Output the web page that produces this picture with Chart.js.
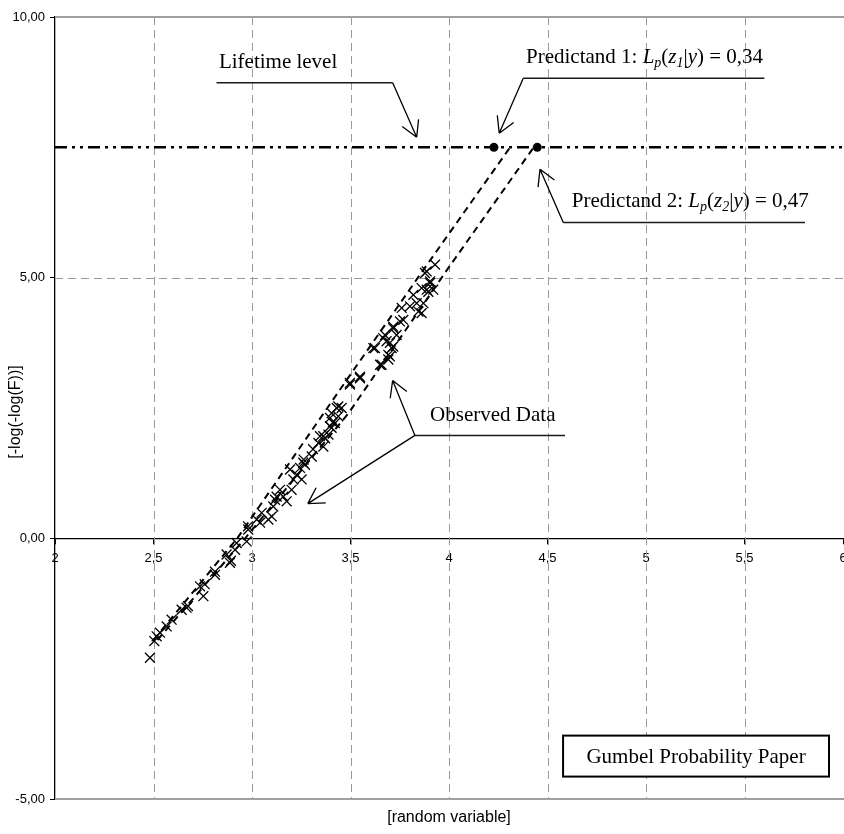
<!DOCTYPE html>
<html>
<head>
<meta charset="utf-8">
<title>Gumbel Probability Paper</title>
<script src="https://cdn.jsdelivr.net/npm/chart.js@4.4.0/dist/chart.umd.min.js"></script>
<style>
  html, body { margin: 0; padding: 0; background: #fff; }
  #wrap { width: 844px; height: 834px; }
</style>
</head>
<body>
<div id="wrap"><canvas id="gumbel" width="844" height="834"></canvas></div>
<script>
// ---- data ----
const xRange = [2, 6];
const yRange = [-5, 10];
const lifetimeLevel = 7.5;
const fitLine1 = [[2.50, -1.95], [2.925, 0], [3.47, 2.98], [3.87, 5.15], [4.31, 7.5]];
const fitLine2 = [[2.52, -1.95], [2.965, 0], [3.49, 2.4], [3.99, 5.15], [4.43, 7.5]];
const predictands = [[4.228, 7.5], [4.448, 7.5]];

const obsZ1 = [
  [2.482,-2.29],[2.516,-1.88],[2.567,-1.69],[2.592,-1.56],[2.643,-1.37],[2.736,-0.92],
  [2.760,-0.88],[2.812,-0.64],[2.871,-0.31],[2.914,-0.22],[2.922,-0.09],[2.981,0.17],
  [3.024,0.36],[3.049,0.49],[3.108,0.61],[3.117,0.74],[3.142,0.93],[3.193,1.32],
  [3.210,1.13],[3.244,1.35],[3.269,1.41],[3.303,1.57],[3.337,1.83],[3.371,1.92],
  [3.404,2.12],[3.421,2.21],[3.438,2.34],[3.430,2.50],[3.455,2.50],[3.497,2.95],
  [3.548,3.07],[3.616,3.65],[3.624,3.65],[3.666,3.84],[3.675,3.90],[3.717,4.06],
  [3.751,4.16],[3.760,4.42],[3.802,4.45],[3.819,4.67],[3.861,4.80],[3.878,5.09],
  [3.887,5.12],[3.904,4.90],[3.929,5.25]
];
const obsZ2 = [
  [2.504,-1.97],[2.533,-1.81],[2.668,-1.33],[2.675,-1.30],[2.753,-1.11],[2.812,-0.70],
  [2.888,-0.47],[2.893,-0.43],[2.973,-0.06],[2.980,0.23],[3.041,0.30],[3.083,0.36],
  [3.100,0.42],[3.125,0.80],[3.159,0.80],[3.176,0.71],[3.201,0.93],[3.227,1.22],
  [3.252,1.13],[3.260,1.45],[3.262,1.51],[3.310,1.71],[3.345,1.96],[3.362,1.76],
  [3.362,1.96],[3.388,1.99],[3.396,2.15],[3.396,2.31],[3.404,2.40],[3.410,2.22],
  [3.438,2.53],[3.497,2.98],[3.548,3.10],[3.650,3.33],[3.658,3.33],[3.692,3.43],
  [3.692,3.52],[3.700,3.49],[3.709,3.65],[3.717,3.68],[3.700,3.75],[3.683,3.78],
  [3.734,3.90],[3.717,4.03],[3.768,4.19],[3.845,4.35],[3.861,4.32],[3.836,4.51],
  [3.870,4.51],[3.895,4.73],[3.887,4.77],[3.920,4.77],[3.904,4.93]
];

const toPts = arr => arr.map(p => ({ x: p[0], y: p[1] }));
const comma = v => String(v).replace('.', ',');

const SERIF = '"Liberation Serif", "Times New Roman", serif';
const SANS  = '"Liberation Sans", Arial, sans-serif';

// rich text (italic + subscripts) for the predictand labels
function drawRich(ctx, x, y, parts, size) {
  parts.forEach(p => {
    const s = p.sub ? Math.round(size * 0.68) : size;
    ctx.font = (p.it ? 'italic ' : '') + s + 'px ' + SERIF;
    ctx.fillText(p.t, x, y + (p.sub ? size * 0.22 : 0));
    x += ctx.measureText(p.t).width;
  });
}

function arrow(ctx, x0, y0, x1, y1) {
  const a = Math.atan2(y0 - y1, x0 - x1);
  ctx.beginPath();
  ctx.moveTo(x0, y0);
  ctx.lineTo(x1, y1);
  [-0.52, 0.52].forEach(d => {
    ctx.moveTo(x1, y1);
    ctx.lineTo(x1 + 18 * Math.cos(a + d), y1 + 18 * Math.sin(a + d));
  });
  ctx.stroke();
}

// dashed grid + frame lines under the data, titles and callouts on top
const gridPlugin = {
  id: 'gumbelGrid',
  beforeDatasetsDraw(chart) {
    const { ctx, chartArea: ca, scales: { x, y } } = chart;
    ctx.save();
    ctx.strokeStyle = '#9a9a9a';
    ctx.lineWidth = 1;
    ctx.setLineDash([8, 5]);
    x.ticks.forEach(t => {
      if (t.value <= xRange[0] || t.value >= xRange[1]) return;
      const px = Math.round(x.getPixelForValue(t.value)) + 0.5;
      ctx.beginPath(); ctx.moveTo(px, ca.top); ctx.lineTo(px, ca.bottom); ctx.stroke();
    });
    y.ticks.forEach(t => {
      if (t.value <= yRange[0] || t.value >= yRange[1] || t.value === 0) return;
      const py = Math.round(y.getPixelForValue(t.value)) + 0.5;
      ctx.beginPath(); ctx.moveTo(ca.left, py); ctx.lineTo(ca.right, py); ctx.stroke();
    });
    ctx.setLineDash([]);
    ctx.lineWidth = 2;
    ctx.strokeStyle = '#a0a0a0';
    [yRange[0], yRange[1]].forEach(v => {
      const py = y.getPixelForValue(v);
      ctx.beginPath(); ctx.moveTo(ca.left, py); ctx.lineTo(844, py); ctx.stroke();
    });
    ctx.restore();
  },
  afterDraw(chart) {
    const { ctx, chartArea: ca, scales: { x, y } } = chart;
    const X = v => x.getPixelForValue(v);
    const Y = v => y.getPixelForValue(v);
    ctx.save();

    // axis titles
    ctx.fillStyle = '#000';
    ctx.font = '16px ' + SANS;
    ctx.textAlign = 'center';
    ctx.textBaseline = 'middle';
    ctx.fillText('[random variable]', (ca.left + ca.right) / 2, ca.bottom + 19);
    ctx.save();
    ctx.translate(16, (ca.top + ca.bottom) / 2 + 4);
    ctx.rotate(-Math.PI / 2);
    ctx.fillText('[-log(-log(F))]', 0, 0);
    ctx.restore();

    // callouts
    ctx.textAlign = 'left';
    ctx.textBaseline = 'alphabetic';
    ctx.font = '21px ' + SERIF;
    ctx.fillText('Lifetime level', X(2.832), Y(9.03));
    ctx.fillText('Observed Data', X(3.904), Y(2.256));
    drawRich(ctx, X(4.391), Y(9.124), [
      { t: 'Predictand 1: ' }, { t: 'L', it: 1 }, { t: 'p', it: 1, sub: 1 }, { t: '(' },
      { t: 'z', it: 1 }, { t: '1', it: 1, sub: 1 }, { t: '|' }, { t: 'y', it: 1 }, { t: ') = 0,34' }
    ], 21);
    drawRich(ctx, X(4.623), Y(6.364), [
      { t: 'Predictand 2: ' }, { t: 'L', it: 1 }, { t: 'p', it: 1, sub: 1 }, { t: '(' },
      { t: 'z', it: 1 }, { t: '2', it: 1, sub: 1 }, { t: '|' }, { t: 'y', it: 1 }, { t: ') = 0,47' }
    ], 21);

    ctx.strokeStyle = '#1a1a1a';
    ctx.lineWidth = 1.5;
    [[2.82, 3.714, 8.74], [4.377, 5.601, 8.825], [4.580, 5.807, 6.057], [3.827, 4.589, 1.974]]
      .forEach(u => {
        ctx.beginPath(); ctx.moveTo(X(u[0]), Y(u[2])); ctx.lineTo(X(u[1]), Y(u[2])); ctx.stroke();
      });
    ctx.strokeStyle = '#000';
    ctx.lineWidth = 1.3;
    arrow(ctx, X(3.714), Y(8.74), X(3.836), Y(7.694));
    arrow(ctx, X(4.377), Y(8.825), X(4.255), Y(7.771));
    arrow(ctx, X(4.580), Y(6.057), X(4.462), Y(7.081));
    arrow(ctx, X(3.827), Y(1.974), X(3.714), Y(3.029));
    arrow(ctx, X(3.827), Y(1.974), X(3.283), Y(0.665));

    // Gumbel label box
    const bx0 = X(4.579), bx1 = X(5.929), by0 = Y(-3.784), by1 = Y(-4.57);
    ctx.fillStyle = '#fff';
    ctx.fillRect(bx0, by0, bx1 - bx0, by1 - by0);
    ctx.lineWidth = 2;
    ctx.strokeRect(bx0, by0, bx1 - bx0, by1 - by0);
    ctx.fillStyle = '#000';
    ctx.textAlign = 'center';
    ctx.textBaseline = 'middle';
    ctx.font = '21px ' + SERIF;
    ctx.fillText('Gumbel Probability Paper', (bx0 + bx1) / 2, (by0 + by1) / 2 + 1);
    ctx.restore();
  }
};

new Chart(document.getElementById('gumbel'), {
  type: 'scatter',
  data: {
    datasets: [
      { label: 'Lifetime level', data: [{ x: xRange[0], y: lifetimeLevel }, { x: xRange[1], y: lifetimeLevel }],
        showLine: true, borderColor: '#000', borderWidth: 2.5, borderDash: [12, 5, 3, 5, 3, 5], pointRadius: 0 },
      { label: 'Fit 1', data: toPts(fitLine1), showLine: true, borderColor: '#000', borderWidth: 2,
        borderDash: [7, 5], pointRadius: 0 },
      { label: 'Fit 2', data: toPts(fitLine2), showLine: true, borderColor: '#000', borderWidth: 2,
        borderDash: [7, 5], pointRadius: 0 },
      { label: 'Observed z1', data: toPts(obsZ1), pointStyle: 'crossRot', pointRadius: 7,
        borderColor: '#000', borderWidth: 1.3 },
      { label: 'Observed z2', data: toPts(obsZ2), pointStyle: 'crossRot', pointRadius: 7,
        borderColor: '#000', borderWidth: 1.3 },
      { label: 'Predictands', data: toPts(predictands), pointStyle: 'circle', pointRadius: 4.5,
        backgroundColor: '#000', borderColor: '#000', borderWidth: 0 }
    ]
  },
  options: {
    responsive: false,
    animation: false,
    layout: { autoPadding: false, padding: { top: 17, right: 1, bottom: 35, left: 0 } },
    plugins: { legend: { display: false }, tooltip: { enabled: false } },
    scales: {
      x: {
        type: 'linear', min: xRange[0], max: xRange[1], position: { y: 0 },
        afterFit: s => { s.paddingLeft = 0; s.paddingRight = 0; },
        ticks: { stepSize: 0.5, color: '#000', padding: 7, font: { family: SANS, size: 13 }, callback: v => comma(v),
          maxRotation: 0 },
        grid: { drawOnChartArea: false, tickLength: 5, tickColor: '#000' },
        border: { color: '#000', width: 1.3 }
      },
      y: {
        type: 'linear', min: yRange[0], max: yRange[1], position: 'left',
        afterFit: s => { s.width = 55; },
        ticks: { stepSize: 5, color: '#000', padding: 5, font: { family: SANS, size: 13 },
          callback: v => v.toFixed(2).replace('.', ',') },
        grid: { drawOnChartArea: false, tickLength: 5, tickColor: '#000' },
        border: { color: '#000', width: 1.3 }
      }
    }
  },
  plugins: [gridPlugin]
});
</script>
</body>
</html>
